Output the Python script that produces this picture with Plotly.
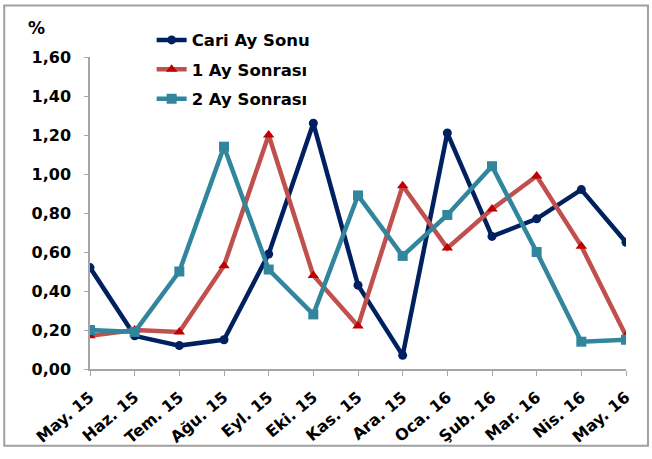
import plotly.graph_objects as go

months = ["May. 15", "Haz. 15", "Tem. 15", "Ağu. 15", "Eyl. 15", "Eki. 15", "Kas. 15",
          "Ara. 15", "Oca. 16", "Şub. 16", "Mar. 16", "Nis. 16", "May. 16"]
cari_ay = [0.52, 0.17, 0.12, 0.15, 0.59, 1.26, 0.43, 0.07, 1.21, 0.68, 0.77, 0.92, 0.65]
bir_ay = [0.17, 0.20, 0.19, 0.53, 1.20, 0.48, 0.22, 0.94, 0.62, 0.82, 0.99, 0.63, 0.17]
iki_ay = [0.20, 0.19, 0.50, 1.14, 0.51, 0.28, 0.89, 0.58, 0.79, 1.04, 0.60, 0.14, 0.15]

FONT = "DejaVu Sans"
AXIS_GRAY = "#a6a6a6"

fig = go.Figure()
fig.add_trace(go.Scatter(
    x=months, y=cari_ay, name="Cari Ay Sonu", mode="lines+markers", legendgroup="a",
    line=dict(color="#002060", width=4.5),
    marker=dict(symbol="circle", size=9, color="#002060"),
))
fig.add_trace(go.Scatter(
    x=months, y=bir_ay, name="1 Ay Sonrası", mode="lines+markers", legendgroup="b",
    line=dict(color="#c0504d", width=4.5),
    marker=dict(symbol="triangle-up", size=10, color="#c00000"),
))
fig.add_trace(go.Scatter(
    x=months, y=iki_ay, name="2 Ay Sonrası", mode="lines+markers", legendgroup="c",
    line=dict(color="#31859c", width=4.5),
    marker=dict(symbol="square", size=10, color="#31859c"),
))

fig.update_layout(
    width=652, height=459,
    margin=dict(l=90, r=26, t=57, b=81),
    paper_bgcolor="white", plot_bgcolor="white",
    separators=",.",
    font=dict(family=FONT, size=14, color="black"),
    legend=dict(
        x=0.115, y=1.11, xanchor="left", yanchor="top",
        font=dict(family=FONT, size=16.5, color="black", weight="bold"),
        bgcolor="rgba(0,0,0,0)", tracegroupgap=5, traceorder="grouped",
    ),
    annotations=[dict(
        text="%", xref="paper", yref="paper", x=-0.099, y=1.093, xanchor="center", yanchor="middle",
        showarrow=False, font=dict(family=FONT, size=17, weight="bold"),
    )],
    shapes=[dict(
        type="rect", xref="paper", yref="paper", x0=-0.160, x1=1.041, y0=-0.246, y1=1.165,
        line=dict(color="#a0a0a0", width=2), fillcolor="rgba(0,0,0,0)", layer="below",
    )],
)

fig.update_xaxes(
    type="category", range=[0, 12], showgrid=False, zeroline=False,
    showline=True, linecolor=AXIS_GRAY, linewidth=1.5,
    ticks="outside", ticklen=5, tickcolor=AXIS_GRAY, tickangle=-40,
    ticklabelstandoff=6,
    tickfont=dict(family=FONT, size=16, weight="bold"),
)
fig.update_yaxes(
    range=[0, 1.6], dtick=0.2, tickformat=".2f", showgrid=False, zeroline=False,
    showline=True, linecolor=AXIS_GRAY, linewidth=1.5,
    ticks="outside", ticklen=4, tickcolor=AXIS_GRAY,
    ticklabelstandoff=10,
    tickfont=dict(family=FONT, size=16, weight="bold"),
)

# drop the default 8px body margin so the figure fills the window exactly
fig.write_html(
    "out.html",
    config={"displayModeBar": False},
    post_script="document.body.style.margin = '0px';",
)
